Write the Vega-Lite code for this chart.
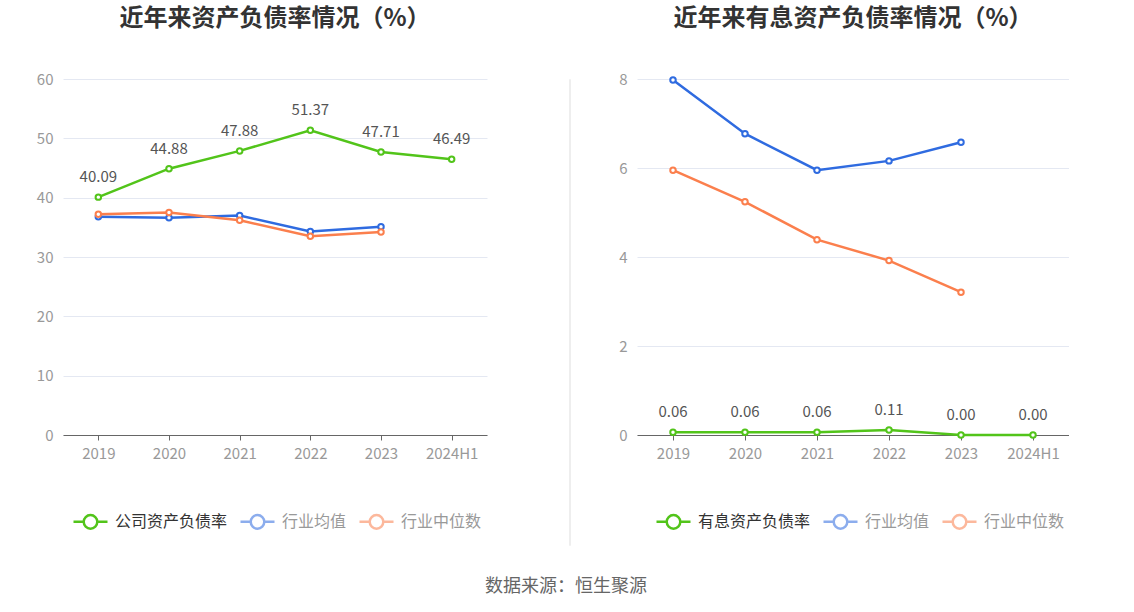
{
  "$schema": "https://vega.github.io/schema/vega-lite/v6.json",
  "padding": {"left": 23, "top": 7, "right": 0, "bottom": 0},
  "background": "white",
  "spacing": 27,
  "title": {"text": "数据来源：恒生聚源", "orient": "bottom", "anchor": "middle", "fontSize": 18, "fontWeight": "normal", "color": "#666", "offset": 32, "dx": 20},
  "datasets": {
    "left": [
      {"year": "2019", "series": "公司资产负债率", "value": 40.09},
      {"year": "2020", "series": "公司资产负债率", "value": 44.88},
      {"year": "2021", "series": "公司资产负债率", "value": 47.88},
      {"year": "2022", "series": "公司资产负债率", "value": 51.37},
      {"year": "2023", "series": "公司资产负债率", "value": 47.71},
      {"year": "2024H1", "series": "公司资产负债率", "value": 46.49},
      {"year": "2019", "series": "行业均值", "value": 36.8},
      {"year": "2020", "series": "行业均值", "value": 36.6},
      {"year": "2021", "series": "行业均值", "value": 37.0},
      {"year": "2022", "series": "行业均值", "value": 34.3},
      {"year": "2023", "series": "行业均值", "value": 35.1},
      {"year": "2019", "series": "行业中位数", "value": 37.2},
      {"year": "2020", "series": "行业中位数", "value": 37.5},
      {"year": "2021", "series": "行业中位数", "value": 36.2},
      {"year": "2022", "series": "行业中位数", "value": 33.5},
      {"year": "2023", "series": "行业中位数", "value": 34.2}
    ],
    "right": [
      {"year": "2019", "series": "有息资产负债率", "value": 0.06},
      {"year": "2020", "series": "有息资产负债率", "value": 0.06},
      {"year": "2021", "series": "有息资产负债率", "value": 0.06},
      {"year": "2022", "series": "有息资产负债率", "value": 0.11},
      {"year": "2023", "series": "有息资产负债率", "value": 0.0},
      {"year": "2024H1", "series": "有息资产负债率", "value": 0.0},
      {"year": "2019", "series": "行业均值", "value": 7.98},
      {"year": "2020", "series": "行业均值", "value": 6.77},
      {"year": "2021", "series": "行业均值", "value": 5.95},
      {"year": "2022", "series": "行业均值", "value": 6.16},
      {"year": "2023", "series": "行业均值", "value": 6.58},
      {"year": "2019", "series": "行业中位数", "value": 5.95},
      {"year": "2020", "series": "行业中位数", "value": 5.24},
      {"year": "2021", "series": "行业中位数", "value": 4.39},
      {"year": "2022", "series": "行业中位数", "value": 3.92},
      {"year": "2023", "series": "行业中位数", "value": 3.21}
    ]
  },
  "hconcat": [
    {
      "width": 424,
      "height": 356,
      "title": {"text": "近年来资产负债率情况（%）"},
      "data": {"name": "left"},
      "resolve": {"axis": {"y": "independent"}},
      "layer": [
        {
          "mark": {"type": "line", "strokeWidth": 2.5, "point": {"filled": false, "fill": "white", "size": 30, "strokeWidth": 2}},
          "encoding": {
            "x": {"field": "year", "type": "ordinal", "sort": null, "scale": {"type": "point", "padding": 0.5}, "axis": {"title": null, "labelAngle": 0}},
            "y": {"field": "value", "type": "quantitative", "scale": {"domain": [0, 60]}, "axis": {"title": null, "values": [0, 10, 20, 30, 40, 50, 60], "minExtent": 40, "maxExtent": 40}},
            "color": {
              "field": "series", "type": "nominal",
              "scale": {"domain": ["公司资产负债率", "行业均值", "行业中位数"], "range": ["#52c41a", "#2f6be0", "#fb7f4d"]},
              "legend": {
                "orient": "none", "legendX": 9, "legendY": 424, "direction": "horizontal", "title": null,
                "symbolType": "M-1,0L-0.4,0M0.4,0L1,0M-0.4,0A0.4,0.4,0,1,1,0.4,0A0.4,0.4,0,1,1,-0.4,0",
                "symbolSize": 1156, "symbolStrokeWidth": 2.5, "symbolFillColor": "white",
                "labelFontSize": 16, "labelColor": "#999", "labelOffset": 6, "columnPadding": 7,
                "encode": {
                  "labels": {"update": {"fill": {"signal": "datum.label === '公司资产负债率' ? '#333' : '#999'"}}},
                  "symbols": {"update": {"opacity": {"signal": "datum.label === '公司资产负债率' ? 1 : 0.55"}}}
                }
              }
            }
          }
        },
        {
          "transform": [{"filter": "datum.series === '公司资产负债率'"}],
          "mark": {"type": "text", "dy": -20, "fontSize": 15, "color": "#555"},
          "encoding": {
            "x": {"field": "year", "type": "ordinal", "sort": null},
            "y": {"field": "value", "type": "quantitative", "axis": {"orient": "right", "title": null, "labels": false, "ticks": false, "domain": false, "grid": false, "minExtent": 52, "maxExtent": 52}},
            "text": {"field": "value", "type": "quantitative", "format": ".2f"}
          }
        }
      ]
    },
    {
      "width": 1,
      "height": 466,
      "data": {"values": [{"a": 1}]},
      "mark": {"type": "point", "opacity": 0},
      "view": {"stroke": "#eeeeee"}
    },
    {
      "width": 432,
      "height": 356,
      "title": {"text": "近年来有息资产负债率情况（%）"},
      "data": {"name": "right"},
      "layer": [
        {
          "mark": {"type": "line", "strokeWidth": 2.5, "point": {"filled": false, "fill": "white", "size": 30, "strokeWidth": 2}},
          "encoding": {
            "x": {"field": "year", "type": "ordinal", "sort": null, "scale": {"type": "point", "padding": 0.5}, "axis": {"title": null, "labelAngle": 0}},
            "y": {"field": "value", "type": "quantitative", "scale": {"domain": [0, 8]}, "axis": {"title": null, "values": [0, 2, 4, 6, 8], "minExtent": 37, "maxExtent": 37}},
            "color": {
              "field": "series", "type": "nominal",
              "scale": {"domain": ["有息资产负债率", "行业均值", "行业中位数"], "range": ["#52c41a", "#2f6be0", "#fb7f4d"]},
              "legend": {
                "orient": "none", "legendX": 18, "legendY": 424, "direction": "horizontal", "title": null,
                "symbolType": "M-1,0L-0.4,0M0.4,0L1,0M-0.4,0A0.4,0.4,0,1,1,0.4,0A0.4,0.4,0,1,1,-0.4,0",
                "symbolSize": 1156, "symbolStrokeWidth": 2.5, "symbolFillColor": "white",
                "labelFontSize": 16, "labelColor": "#999", "labelOffset": 6, "columnPadding": 7,
                "encode": {
                  "labels": {"update": {"fill": {"signal": "datum.label === '有息资产负债率' ? '#333' : '#999'"}}},
                  "symbols": {"update": {"opacity": {"signal": "datum.label === '有息资产负债率' ? 1 : 0.55"}}}
                }
              }
            }
          }
        },
        {
          "transform": [{"filter": "datum.series === '有息资产负债率'"}],
          "mark": {"type": "text", "dy": -20, "fontSize": 15, "color": "#555"},
          "encoding": {
            "x": {"field": "year", "type": "ordinal", "sort": null},
            "y": {"field": "value", "type": "quantitative"},
            "text": {"field": "value", "type": "quantitative", "format": ".2f"}
          }
        }
      ]
    }
  ],
  "resolve": {"scale": {"color": "independent"}},
  "config": {
    "font": "Noto Sans CJK SC",
    "view": {"stroke": null},
    "title": {"fontSize": 24, "fontWeight": "bold", "color": "#333", "anchor": "middle", "offset": 41},
    "axis": {"labelColor": "#999", "labelFontSize": 15, "gridColor": "#e4e8f2", "domain": false, "ticks": false, "labelPadding": 10},
    "axisX": {"domain": true, "domainColor": "#666", "ticks": true, "tickColor": "#666", "tickSize": 5, "grid": false, "labelPadding": 6},
    "axisY": {"grid": true}
  }
}
